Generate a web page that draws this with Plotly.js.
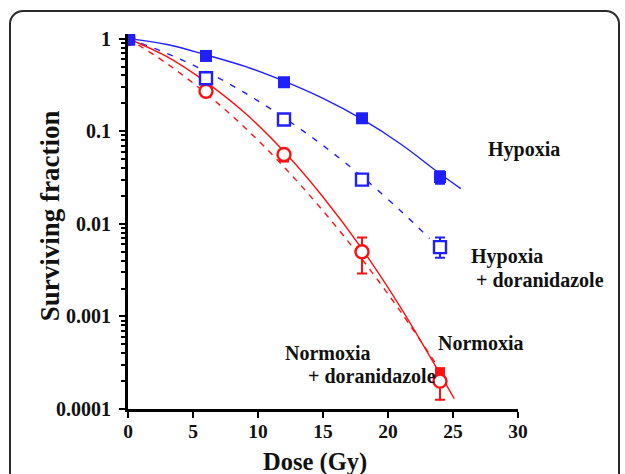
<!DOCTYPE html>
<html><head><meta charset="utf-8">
<script src="https://cdn.plot.ly/plotly-3.0.1.min.js"></script>
<style>
html,body{margin:0;padding:0;background:#fff;}
#chart{width:625px;height:474px;position:absolute;left:0;top:0;}
#frame{position:absolute;left:9px;top:10px;width:611px;height:480px;border:2px solid #2a2a2a;border-radius:14px;pointer-events:none;box-sizing:border-box;}
</style></head>
<body>
<div id="chart"></div>
<div id="frame"></div>
<script>
// ---- measured points ----
const dose = [0, 6, 12, 18, 24];
const hypoxia = [1, 0.65, 0.338, 0.138, 0.032];
const hypoxiaErrPlus = [0, 0, 0, 0, 0.005];
const hypoxiaErrMinus = [0, 0, 0, 0, 0.005];
const hypoxiaDor = [1, 0.373, 0.134, 0.030, 0.0056];
const hypoxiaDorErrPlus = [0, 0, 0, 0, 0.0015];
const hypoxiaDorErrMinus = [0, 0, 0, 0, 0.0013];
const normoxia = [1, 0.27, 0.052, 0.0049, 0.00025];
const normoxiaErrPlus = [0, 0, 0, 0, 0.00002];
const normoxiaErrMinus = [0, 0, 0, 0, 0.00002];
const normoxiaDor = [1, 0.27, 0.056, 0.0050, 0.0002];
const normoxiaDorErrPlus = [0, 0, 0, 0.0021, 0.00007];
const normoxiaDorErrMinus = [0, 0, 0, 0.0021, 0.000074];

// ---- fitted curves ----
const fitDoseHyp = [0, 3, 6, 9, 12, 15, 18, 21, 24, 25.6];
const fitHyp = [1, 0.863, 0.668, 0.501, 0.347, 0.226, 0.135, 0.0724, 0.0347, 0.024];
const fitDoseHypDor = [0, 3, 6, 9, 12, 15, 18, 21, 23.2];
const fitHypDor = [1, 0.692, 0.442, 0.259, 0.140, 0.0701, 0.0324, 0.0137, 0.00692];
const fitDoseNor = [0, 3, 6, 9, 12, 15, 18, 21, 24, 25.1];
const fitNor = [1, 0.638, 0.339, 0.157, 0.0603, 0.0195, 0.00537, 0.00123, 0.00024, 0.000129];
const fitDoseNorDor = [0, 3, 6, 9, 12, 15, 18, 21, 24];
const fitNorDor = [1, 0.537, 0.256, 0.109, 0.0411, 0.0138, 0.00415, 0.00111, 0.000263];

const xTicks = [0, 5, 10, 15, 20, 25, 30];
const yTicks = [0.0001, 0.001, 0.01, 0.1, 1];
const yTickText = ['0.0001', '0.001', '0.01', '0.1', '1'];

const BLUE = '#1f1fff';
const RED = '#ff1010';
const serif = 'Liberation Serif, Times New Roman, serif';

const traces = [
  {x: fitDoseHyp, y: fitHyp, mode: 'lines', line: {color: BLUE, width: 1.4, shape: 'spline'}, hoverinfo: 'skip'},
  {x: fitDoseHypDor, y: fitHypDor, mode: 'lines', line: {color: BLUE, width: 1.4, dash: '6px,8px', shape: 'spline'}, hoverinfo: 'skip'},
  {x: fitDoseNor, y: fitNor, mode: 'lines', line: {color: RED, width: 1.4, shape: 'spline'}, hoverinfo: 'skip'},
  {x: fitDoseNorDor, y: fitNorDor, mode: 'lines', line: {color: RED, width: 1.4, dash: '6px,6px', shape: 'spline'}, hoverinfo: 'skip'},
  {x: dose, y: normoxia, mode: 'markers', marker: {symbol: 'square', size: 10, color: RED},
   error_y: {type: 'data', symmetric: false, array: normoxiaErrPlus, arrayminus: normoxiaErrMinus, color: RED, thickness: 2, width: 5}},
  {x: dose, y: normoxiaDor, mode: 'markers', marker: {symbol: 'circle', size: 13, color: '#ffffff', line: {width: 2.4, color: RED}},
   error_y: {type: 'data', symmetric: false, array: normoxiaDorErrPlus, arrayminus: normoxiaDorErrMinus, color: RED, thickness: 2, width: 5}},
  {x: dose, y: hypoxiaDor, mode: 'markers', marker: {symbol: 'square', size: 12, color: '#ffffff', line: {width: 2.4, color: BLUE}},
   error_y: {type: 'data', symmetric: false, array: hypoxiaDorErrPlus, arrayminus: hypoxiaDorErrMinus, color: BLUE, thickness: 2, width: 5}},
  {x: dose, y: hypoxia, mode: 'markers', marker: {symbol: 'square', size: 12, color: BLUE},
   error_y: {type: 'data', symmetric: false, array: hypoxiaErrPlus, arrayminus: hypoxiaErrMinus, color: BLUE, thickness: 2, width: 5}}
];

const annFont = {family: serif, size: 20, color: '#111', weight: 'bold'};
const layout = {
  width: 625, height: 474,
  margin: {l: 128, r: 107, t: 34, b: 65},
  paper_bgcolor: 'rgba(0,0,0,0)', plot_bgcolor: '#fff',
  showlegend: false,
  xaxis: {
    range: [0, 30], tickvals: xTicks, ticktext: xTicks.map(String),
    showgrid: false, zeroline: false, showline: true, linecolor: '#000', linewidth: 3,
    ticks: 'outside', ticklen: 6, tickwidth: 2, tickcolor: '#000', ticklabelstandoff: -3,
    tickfont: {family: serif, size: 19.5, color: '#111', weight: 'bold'}
  },
  yaxis: {
    type: 'log', range: [-4, 0.05], tickvals: yTicks, ticktext: yTickText,
    showgrid: false, zeroline: false, showline: true, linecolor: '#000', linewidth: 3,
    ticks: 'outside', ticklen: 6, tickwidth: 2, tickcolor: '#000', ticklabelstandoff: 4,
    minor: {ticks: 'outside', ticklen: 4, tickwidth: 2, tickcolor: '#000', dtick: 'D1', showgrid: false},
    tickfont: {family: serif, size: 20, color: '#111', weight: 'bold'}
  },
  annotations: [
    {xref: 'paper', yref: 'paper', x: -0.2, y: 0.514, xanchor: 'center', yanchor: 'middle', textangle: -90,
     text: 'Surviving fraction', showarrow: false,
     font: {family: serif, size: 27, color: '#111', weight: 'bold'}},
    {xref: 'paper', yref: 'paper', x: 0.48, y: -0.142, xanchor: 'center', yanchor: 'middle',
     text: 'Dose (Gy)', showarrow: false,
     font: {family: serif, size: 24.5, color: '#111', weight: 'bold'}},
    {xref: 'x', yref: 'y', x: 27.54, y: -1.20, text: 'Hypoxia', showarrow: false, xanchor: 'left', font: annFont},
    {xref: 'x', yref: 'y', x: 26.23, y: -2.35, text: 'Hypoxia', showarrow: false, xanchor: 'left', font: annFont},
    {xref: 'x', yref: 'y', x: 26.62, y: -2.61, text: '+ doranidazole', showarrow: false, xanchor: 'left', font: annFont},
    {xref: 'x', yref: 'y', x: 23.69, y: -3.29, text: 'Normoxia', showarrow: false, xanchor: 'left', font: annFont},
    {xref: 'x', yref: 'y', x: 11.92, y: -3.39, text: 'Normoxia', showarrow: false, xanchor: 'left', font: annFont},
    {xref: 'x', yref: 'y', x: 13.69, y: -3.64, text: '+ doranidazole', showarrow: false, xanchor: 'left', font: annFont}
  ]
};
Plotly.newPlot('chart', traces, layout, {displayModeBar: false, staticPlot: true});
</script>
</body></html>
